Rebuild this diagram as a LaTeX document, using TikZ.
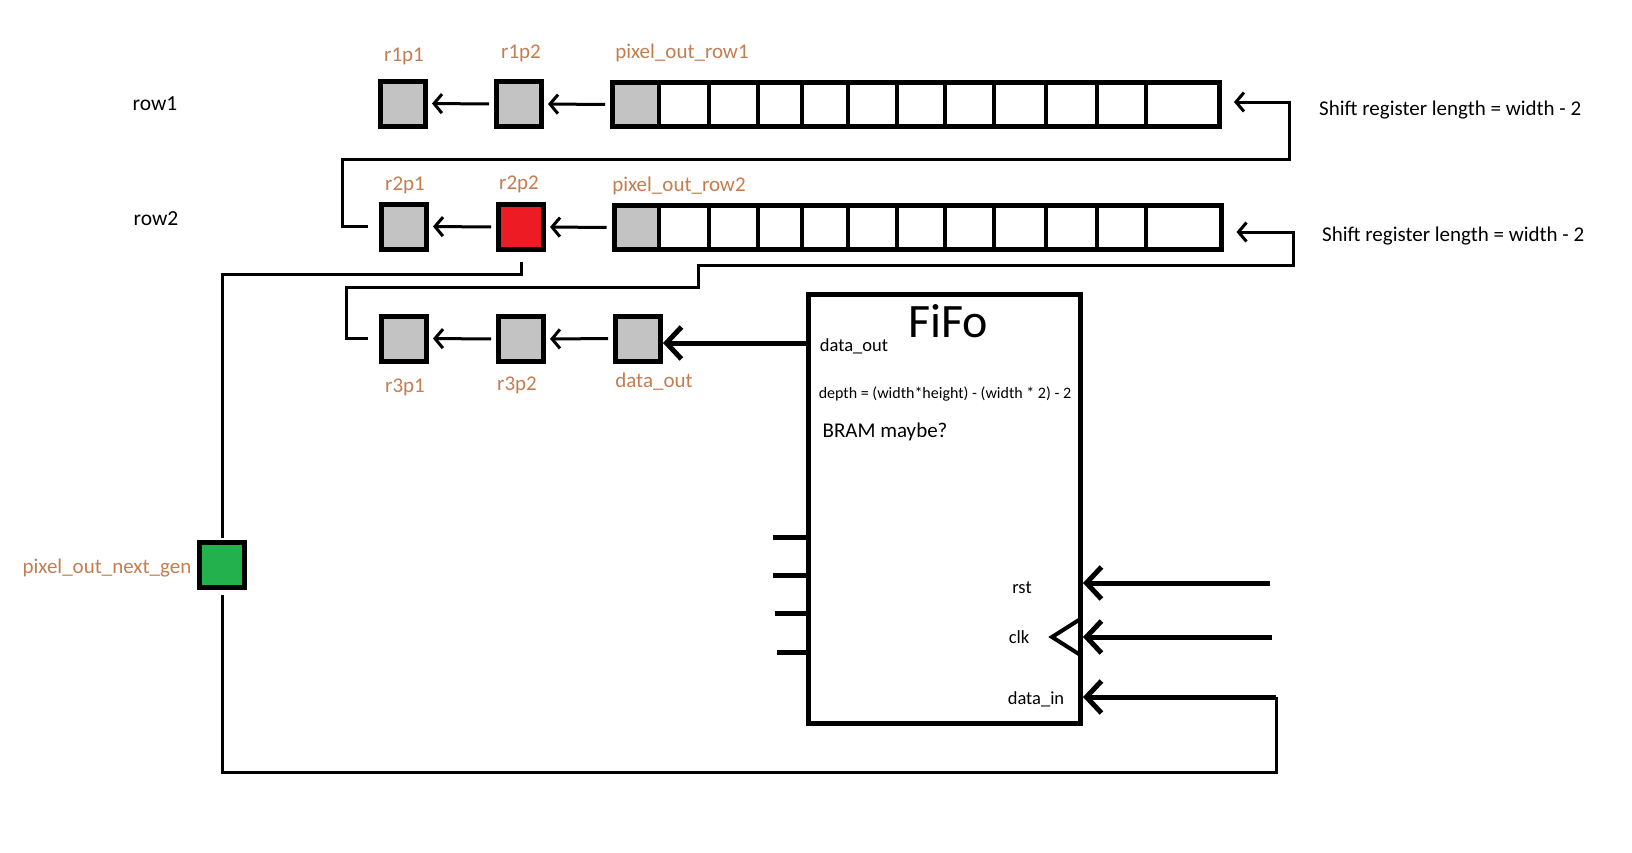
\documentclass[tikz,border=0pt]{standalone}
\usepackage{fontspec}
\setmainfont{Carlito}
\usetikzlibrary{arrows.meta,calc}
\definecolor{labelorange}{RGB}{195,125,80}
\definecolor{pxgray}{RGB}{195,195,195}
\definecolor{pxred}{RGB}{237,28,36}
\definecolor{pxgreen}{RGB}{34,177,76}
\def\dividers{659,709,758,802,848,897,945,994,1046,1097,1146}
\tikzset{
  pix/.style={draw, line width=5pt, fill=pxgray, minimum size=45pt, inner sep=0pt},
  regbox/.style={draw, line width=5pt, minimum width=607pt, minimum height=44pt, inner sep=0pt},
  blockbox/.style={draw, line width=5pt, minimum width=272pt, minimum height=429pt, inner sep=0pt},
  wire/.style={line width=3pt},
  smallarrow/.style={wire, -{Straight Barb[length=8pt,width=19pt]}, shorten <=5pt, shorten >=4pt},
  bigarrow/.style={line width=5pt, -{Straight Barb[length=15pt,width=32pt]}},
  lbl/.style={text=labelorange, font=\fontsize{21}{25}\selectfont, anchor=base, inner sep=0pt},
  txt/.style={font=\fontsize{18.5}{22}\selectfont, anchor=base, inner sep=0pt},
}
\begin{document}
\begin{tikzpicture}[x=1pt,y=-1pt]
\useasboundingbox (0,0) rectangle (1632,852);

\fill[pxgray] (612,82) rectangle (659,127);
\fill[pxgray] (614,205) rectangle (659,250);
\node[regbox] (reg1) at (916,104.5) {};
\node[regbox] (reg2) at (917.5,227.5) {};
\foreach \r in {reg1,reg2}
  \foreach \x in \dividers
    \draw[line width=4pt] (\r.north -| \x,0) -- (\r.south -| \x,0);

\node[pix] (r1p1) at (403,103.5) {};
\node[pix] (r1p2) at (519,104) {};
\node[pix] (r2p1) at (404,226.5) {};
\node[pix, fill=pxred] (r2p2) at (521,227) {};
\node[pix] (r3p1) at (404,338.5) {};
\node[pix] (r3p2) at (521,339) {};
\node[pix] (dout) at (638,338.5) {};
\node[pix, fill=pxgreen] (nextgen) at (222,565) {};
\node[blockbox] (fifo) at (944.5,508.5) {};

\draw[smallarrow] (reg1.west) -- (r1p2.east);
\draw[smallarrow] (r1p2.west) -- (r1p1.east);
\draw[smallarrow] (reg2.west) -- (r2p2.east);
\draw[smallarrow] (r2p2.west) -- (r2p1.east);
\draw[smallarrow] (dout.west) -- (r3p2.east);
\draw[smallarrow] (r3p2.west) -- (r3p1.east);
\draw[bigarrow] (fifo.west |- 0,343) -- (dout.east |- 0,343);

\draw[wire, -{Straight Barb[length=8pt,width=19pt]}, shorten <=11pt, shorten >=12pt]
  (r2p1.west) -| (342,159) -| (1289,102) -- (reg1.east |- 0,102);
\draw[wire, -{Straight Barb[length=8pt,width=19pt]}, shorten <=11pt, shorten >=13pt]
  (r3p1.west) -| (346,287) -| (698,265) -| (1293,232) -- (reg2.east |- 0,232);
\draw[wire, shorten <=10pt, shorten >=2pt] (r2p2.south) |- (nextgen.north |- 0,274) -- (nextgen.north);

\coordinate (rstin) at (1270,583);
\coordinate (clkin) at (1272,637);
\coordinate (dinjoin) at (1276,697);
\draw[wire, shorten <=5pt] (nextgen.south) |- (1276,772) -- (dinjoin);
\draw[bigarrow] (rstin) -- (fifo.east |- rstin);
\draw[bigarrow] (clkin) -- (fifo.east |- clkin);
\draw[bigarrow] (dinjoin) -- (fifo.east |- dinjoin);
\draw[line width=4pt] ($(fifo.east |- clkin)+(-1,-19)$) -- ++(-30,19) -- ++(30,19);
\foreach \y/\x in {537/773,575/773,613/775,652/777}
  \draw[line width=5pt] (\x,\y) -- (fifo.west |- 0,\y);

\node[txt, font=\fontsize{21.5}{25}\selectfont] (row1) at (155,110.5) {row1};
\node[txt, font=\fontsize{21.5}{25}\selectfont] (row2) at (156,225) {row2};
\node[txt, font=\fontsize{21}{25}\selectfont, anchor=base west] (len1) at (1319,115) {Shift register length = width - 2};
\node[txt, font=\fontsize{21}{25}\selectfont, anchor=base west] (len2) at (1322,241) {Shift register length = width - 2};

\node[lbl] (l11) at (404,61) {r1p1};
\node[lbl] (l12) at (521,58) {r1p2};
\node[lbl] (lrow1) at (682,58) {pixel\_out\_row1};
\node[lbl] (l21) at (405,190) {r2p1};
\node[lbl] (l22) at (519,189) {r2p2};
\node[lbl] (lrow2) at (679,191) {pixel\_out\_row2};
\node[lbl] (l31) at (405,392) {r3p1};
\node[lbl] (l32) at (517,390) {r3p2};
\node[lbl] (ldout) at (654,387) {data\_out};
\node[lbl] (lnext) at (107,573) {pixel\_out\_next\_gen};

\node[txt, font=\fontsize{48}{56}\selectfont] (fifoname) at (948,337) {FiFo};
\node[txt] (fdata) at (854,351) {data\_out};
\node[txt, font=\fontsize{16}{19}\selectfont] (fdepth) at (945,398) {depth = (width*height) - (width * 2) - 2};
\node[txt, font=\fontsize{21}{25}\selectfont] (fbram) at (885,437) {BRAM maybe?};
\node[txt] (frst) at (1022,593) {rst};
\node[txt] (fclk) at (1019,643) {clk};
\node[txt] (fdin) at (1036,704) {data\_in};
\end{tikzpicture}
\end{document}
